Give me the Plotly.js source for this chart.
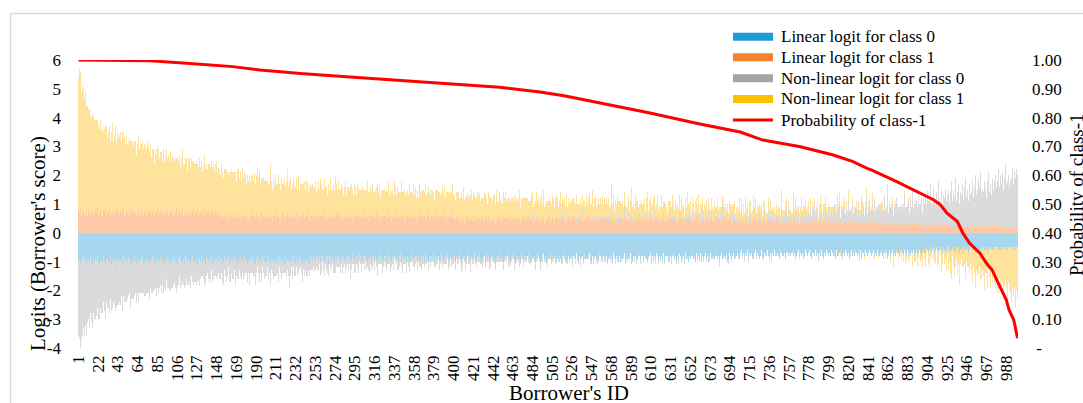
<!DOCTYPE html>
<html>
<head>
<meta charset="utf-8">
<script src="https://cdn.plot.ly/plotly-3.0.1.min.js"></script>
<style>
  html, body { margin: 0; padding: 0; background: #ffffff; }
  #chart { width: 1083px; height: 403px; }
</style>
</head>
<body>
<div id="chart"></div>
<script>
// Borrowers 1..1000, ordered by decreasing probability of class 1.
// One value per borrower in each logit series.

const linearClass0 = [
-1,-.9,-1.1,-1,-.9,-.8,-1,-.9,-1,-1.1,-.9,-.9,-1,-.8,-1,-1.1,-.9,-1,-.9,-1,-.8,-1,-1.1,-.9,-1,
-.9,-1,-.8,-1,-1.1,-.9,-.9,-1,-1,-.8,-1.1,-.9,-1,-.9,-1.2,-.9,-.8,-1,-.9,-1,-1,-.9,-1.1,-.8,-.9,
-1,-.9,-1,-.8,-.9,-1.1,-1,-.9,-.9,-1,-.8,-1,-1.1,-.9,-1,-.9,-1,-.8,-.9,-1.1,-1,-.9,-1,-.9,-1,
-.9,-1.1,-.9,-1,-.8,-1,-.9,-1,-1.1,-.9,-.9,-1,-.8,-1,-.9,-1.1,-.9,-1,-1,-.8,-.9,-1,-.9,-1.1,-.9,
-1,-.8,-.9,-1,-1,-1.1,-.9,-.8,-1,-.9,-1,-1,-.9,-1.1,-.8,-.9,-1,-.9,-1,-1.1,-.9,-.8,-1,-1,-.9,
-.9,-1,-1.1,-.9,-.9,-1,-.8,-1,-.9,-1,-1.1,-.8,-.9,-1,-.9,-1,-1,-.8,-1.1,-.9,-1,-.9,-.9,-1,-.8,
-1,-.9,-.9,-1.1,-1,-.8,-.9,-1,-1,-.9,-.8,-1,-1.1,-.9,-.9,-1,-.8,-1,-.9,-1.1,-1,-.9,-.8,-1,-.9,
-.9,-1,-.8,-.9,-1,-1.1,-.9,-1,-.9,-.8,-1,-.9,-1,-1.1,-.9,-.8,-1,-.9,-1,-.9,-1.1,-.8,-.9,-1,-1,
-1,-.8,-1,-.9,-1.1,-.9,-.9,-1,-.8,-1,-.9,-1.1,-.9,-1,-.8,-.9,-1,-1,-.9,-1.1,-.8,-1,-.9,-.9,-1,
-.9,-1,-.9,-1,-.8,-1,-1.1,-.9,-.9,-1,-.8,-.9,-1,-1.1,-.9,-1,-.8,-.9,-1,-.9,-1,-1.1,-.8,-.9,-1,
-.8,-.9,-1,-.8,-.7,-.9,-.8,-1,-.9,-.8,-.7,-.9,-1,-.8,-.9,-.8,-1.1,-.8,-.7,-.9,-.8,-.9,-1,-.8,-.9,
-.9,-.8,-.7,-.9,-1,-.8,-.9,-.8,-.9,-1,-.7,-.8,-.9,-.8,-1,-.9,-.8,-.7,-.9,-.9,-1,-.8,-.8,-.9,-.7,
-.8,-1,-.9,-.8,-.8,-.7,-.9,-1,-.8,-.9,-.9,-.8,-1.1,-.8,-.7,-.9,-.8,-.9,-1,-.8,-.7,-.9,-.8,-1,-.9,
-.9,-.8,-.8,-1,-.9,-.7,-.8,-.9,-1,-.8,-.9,-.7,-.8,-.9,-.9,-1,-.8,-.8,-.7,-1,-.9,-.8,-.9,-.8,-1,
-.8,-.9,-1,-.8,-.7,-.9,-.9,-.8,-1,-.8,-.8,-.9,-.7,-1,-.9,-.8,-.9,-.8,-1,-.7,-.8,-.9,-1,-.8,-.9,
-.9,-.8,-.9,-.7,-1,-.8,-.9,-.8,-.8,-1,-.9,-.7,-.8,-.9,-1,-.8,-.9,-.8,-.7,-.9,-1,-.8,-.9,-.9,-.8,
-.8,-1,-.8,-.9,-.8,-.7,-.9,-1,-.8,-.9,-.8,-.8,-1,-.9,-.7,-.8,-.9,-1,-.8,-.9,-.8,-.7,-1,-.9,-.8,
-.9,-.8,-.7,-.9,-1,-.9,-.8,-.8,-1,-.7,-.9,-.8,-.9,-1,-.8,-.8,-.7,-.9,-.9,-1,-.8,-.9,-.8,-.7,-.9,
-.8,-.9,-1,-.8,-.9,-.8,-.7,-.9,-.8,-1,-.9,-.8,-.8,-.7,-.9,-1,-.8,-.9,-.8,-.9,-1,-.7,-.8,-.9,-.8,
-1,-.8,-.9,-.8,-.7,-.9,-1,-.8,-.9,-.8,-.8,-1,-.9,-.7,-.8,-.9,-.8,-1,-.9,-.8,-.7,-.9,-.8,-1,-.9,
-.8,-.9,-.7,-1,-.8,-.9,-.8,-.8,-.9,-1,-.7,-.9,-.8,-.9,-1,-.8,-.7,-.9,-.8,-1,-.9,-.8,-.9,-.7,-.8,
-.9,-1,-.8,-.8,-.9,-.7,-.9,-1,-.8,-.9,-.8,-.8,-1,-.7,-.9,-.8,-1,-.9,-.8,-.7,-.9,-1,-.8,-.9,-.8,
-.8,-.9,-.9,-1,-.7,-.8,-.9,-.8,-1,-.8,-.9,-.7,-.8,-1,-.9,-.8,-.8,-.9,-1,-.7,-.8,-.9,-.8,-.9,-1,
-.9,-.8,-1,-.8,-.9,-.8,-.7,-1,-.9,-.8,-.9,-.8,-.7,-.9,-1,-.8,-.9,-.8,-.8,-1,-.9,-.7,-.8,-.9,-.8,
-.8,-.9,-.8,-.7,-.9,-1,-.8,-.8,-.9,-.7,-1,-.8,-.9,-.8,-.9,-.7,-.8,-1,-.8,-.9,-.8,-.9,-.7,-1,-.8,
-.9,-.7,-.8,-.9,-1,-.8,-.9,-.8,-.7,-.9,-.8,-1,-.8,-.9,-.7,-.8,-.9,-1,-.8,-.8,-.9,-.7,-.9,-.8,-1,
-.8,-.9,-.7,-.8,-.9,-.8,-1,-.7,-.8,-.9,-.8,-.9,-.7,-1,-.8,-.9,-.8,-.7,-.9,-.8,-1,-.8,-.7,-.9,-.8,
-.7,-.8,-.9,-.8,-.7,-.9,-.8,-1,-.8,-.7,-.9,-.8,-.8,-.9,-.7,-1,-.8,-.9,-.7,-.8,-.9,-.8,-.7,-.9,-.8,
-.8,-.7,-.8,-.9,-.7,-.6,-.8,-.7,-.9,-.8,-.7,-.8,-.6,-.9,-.7,-.8,-.7,-.8,-.9,-.7,-.6,-.8,-.7,-.8,-.9,
-.7,-.8,-.6,-.8,-.9,-.7,-.8,-.7,-.6,-.8,-.9,-.7,-.8,-.7,-.8,-.6,-.9,-.7,-.8,-.7,-.8,-.9,-.6,-.7,-.8,
-.8,-.7,-.9,-.7,-.6,-.8,-.7,-.8,-.9,-.7,-.6,-.8,-.7,-.9,-.8,-.7,-.6,-.8,-.7,-.8,-.7,-.9,-.8,-.6,-.7,
-.7,-.8,-.7,-.6,-.8,-.9,-.7,-.7,-.8,-.6,-.8,-.7,-.9,-.7,-.8,-.6,-.7,-.8,-.9,-.7,-.8,-.6,-.7,-.8,-.7,
-.8,-.6,-.7,-.8,-.7,-.9,-.6,-.8,-.7,-.8,-.7,-.6,-.8,-.9,-.7,-.8,-.6,-.7,-.8,-.7,-.9,-.7,-.6,-.8,-.7,
-.7,-.8,-.6,-.7,-.8,-.7,-.8,-.6,-.9,-.7,-.7,-.8,-.6,-.7,-.8,-.7,-.9,-.6,-.7,-.8,-.7,-.6,-.8,-.7,-.8,
-.6,-.7,-.8,-.7,-.6,-.8,-.7,-.7,-.8,-.6,-.7,-.9,-.7,-.6,-.8,-.7,-.6,-.8,-.7,-.8,-.6,-.7,-.7,-.8,-.6,
-.7,-.6,-.7,-.8,-.6,-.7,-.8,-.6,-.7,-.7,-.8,-.6,-.7,-.6,-.8,-.7,-.7,-.6,-.8,-.7,-.6,-.7,-.8,-.6,-.7,
-.6,-.7,-.5,-.6,-.7,-.6,-.5,-.7,-.6,-.6,-.5,-.7,-.6,-.5,-.6,-.7,-.6,-.5,-.6,-.7,-.5,-.6,-.6,-.7,-.5,
-.6,-.5,-.6,-.7,-.6,-.5,-.6,-.6,-.7,-.5,-.6,-.5,-.7,-.6,-.6,-.5,-.6,-.7,-.5,-.6,-.6,-.5,-.7,-.6,-.5,
-.5,-.6,-.6,-.5,-.7,-.6,-.5,-.6,-.5,-.6,-.7,-.5,-.6,-.5,-.6,-.6,-.5,-.7,-.6,-.5,-.6,-.5,-.6,-.6,-.5,
-.6,-.5,-.5,-.6,-.5,-.6,-.6,-.5,-.6,-.5,-.5,-.6,-.5,-.6,-.5,-.5,-.6,-.5,-.5,-.6,-.5,-.5,-.6,-.5,-.5
];

const linearClass1 = [
.8,.7,.9,.6,.7,.8,.6,.7,.9,.7,.6,.8,.7,.7,.5,.8,.7,.6,.8,.7,.9,.6,.7,.8,.6,
.7,.6,.8,.7,.9,.6,.7,.7,.8,.5,.7,.8,.6,.7,.9,.7,.6,.8,.7,.6,.8,.7,.7,.9,.6,
.6,.8,.7,.7,.6,.9,.7,.8,.6,.7,.8,.7,.5,.7,.8,.6,.7,.9,.7,.6,.7,.8,.6,.7,.8,
.7,.7,.8,.6,.7,.8,.5,.7,.7,.9,.6,.7,.8,.7,.6,.7,.8,.7,.6,.9,.7,.6,.7,.8,.7,
.8,.6,.7,.7,.9,.6,.7,.8,.7,.6,.7,.8,.6,.7,.7,.8,.5,.7,.8,.6,.7,.7,.9,.6,.7,
.6,.7,.8,.6,.7,.7,.8,.6,.7,.9,.6,.7,.7,.8,.6,.7,.6,.8,.7,.7,.6,.8,.7,.6,.7,
.6,.5,.7,.6,.5,.6,.7,.5,.6,.6,.4,.7,.6,.5,.6,.7,.5,.6,.5,.7,.6,.5,.6,.4,.6,
.5,.6,.6,.7,.5,.6,.5,.4,.6,.7,.6,.5,.6,.5,.7,.6,.5,.6,.6,.4,.7,.5,.6,.6,.5,
.6,.5,.6,.5,.7,.6,.4,.6,.5,.6,.7,.5,.6,.6,.5,.4,.6,.7,.5,.6,.5,.6,.7,.5,.6,
.5,.7,.5,.6,.6,.5,.6,.7,.4,.6,.5,.6,.5,.7,.6,.5,.6,.5,.6,.7,.5,.4,.6,.6,.5,
.6,.5,.6,.4,.6,.7,.5,.6,.5,.6,.6,.5,.7,.5,.6,.4,.6,.5,.7,.6,.5,.6,.5,.6,.7,
.5,.6,.7,.5,.6,.5,.6,.4,.6,.7,.5,.6,.5,.6,.6,.5,.7,.5,.4,.6,.6,.5,.7,.5,.6,
.6,.5,.5,.6,.7,.5,.6,.6,.5,.4,.6,.7,.5,.6,.5,.6,.5,.7,.6,.5,.6,.4,.6,.5,.6,
.5,.6,.6,.5,.5,.7,.5,.6,.4,.6,.5,.6,.7,.5,.6,.5,.6,.6,.5,.7,.5,.6,.5,.4,.6,
.6,.5,.7,.5,.6,.5,.6,.5,.6,.6,.4,.6,.5,.7,.5,.6,.5,.6,.6,.5,.4,.6,.7,.5,.5,
.5,.6,.5,.6,.4,.6,.7,.5,.5,.6,.6,.5,.6,.5,.7,.5,.6,.4,.6,.5,.6,.6,.5,.7,.5,
.5,.4,.5,.6,.4,.5,.4,.5,.6,.4,.5,.3,.5,.4,.6,.5,.4,.5,.5,.4,.6,.4,.5,.4,.5,
.4,.5,.5,.4,.6,.4,.5,.3,.5,.5,.4,.6,.4,.5,.4,.5,.6,.4,.5,.3,.5,.4,.5,.6,.4,
.5,.4,.6,.5,.4,.5,.5,.4,.3,.5,.6,.4,.5,.4,.5,.6,.4,.4,.5,.5,.3,.5,.4,.6,.5,
.4,.5,.4,.5,.6,.4,.5,.4,.5,.3,.5,.4,.6,.5,.4,.5,.5,.4,.6,.4,.5,.3,.5,.4,.5,
.5,.6,.4,.4,.5,.5,.3,.5,.4,.6,.5,.4,.5,.4,.5,.6,.4,.5,.3,.5,.4,.5,.6,.4,.5,
.4,.5,.5,.6,.4,.3,.5,.4,.5,.5,.4,.6,.4,.5,.3,.5,.4,.5,.6,.4,.5,.4,.5,.4,.6,
.5,.4,.6,.4,.5,.4,.5,.5,.3,.4,.6,.5,.4,.5,.4,.5,.4,.6,.4,.5,.3,.5,.4,.5,.4,
.4,.5,.4,.5,.3,.5,.6,.4,.5,.4,.5,.4,.5,.6,.4,.3,.5,.4,.5,.4,.6,.4,.5,.4,.5,
.5,.4,.5,.4,.6,.4,.4,.5,.3,.5,.4,.5,.4,.6,.5,.4,.4,.5,.3,.5,.5,.4,.6,.4,.4,
.4,.5,.3,.5,.4,.5,.5,.4,.6,.4,.4,.5,.3,.4,.5,.4,.6,.4,.5,.4,.3,.5,.4,.5,.4,
.5,.4,.4,.5,.3,.4,.5,.6,.4,.4,.5,.3,.5,.4,.4,.5,.4,.3,.5,.4,.5,.4,.4,.6,.4,
.4,.4,.5,.3,.5,.4,.4,.5,.4,.3,.5,.4,.5,.4,.3,.4,.5,.4,.4,.5,.3,.4,.5,.4,.4,
.4,.3,.4,.5,.3,.4,.4,.3,.5,.4,.3,.4,.4,.3,.5,.4,.3,.4,.4,.5,.3,.4,.3,.4,.4,
.3,.4,.4,.3,.4,.5,.3,.4,.3,.4,.4,.3,.5,.4,.3,.4,.3,.4,.5,.3,.4,.4,.3,.4,.3,
.4,.3,.5,.4,.3,.4,.3,.4,.4,.3,.4,.5,.3,.4,.3,.4,.4,.3,.4,.3,.5,.4,.3,.4,.4,
.3,.4,.3,.4,.4,.3,.5,.3,.4,.3,.4,.4,.3,.4,.5,.3,.4,.3,.4,.4,.3,.4,.3,.5,.3,
.4,.3,.4,.3,.3,.4,.4,.3,.4,.5,.3,.3,.4,.3,.4,.3,.4,.4,.3,.4,.3,.3,.4,.4,.3,
.3,.4,.3,.4,.3,.3,.4,.3,.4,.3,.4,.3,.3,.4,.3,.4,.3,.4,.3,.3,.4,.3,.4,.3,.3,
.3,.3,.4,.3,.2,.3,.3,.4,.3,.2,.3,.3,.3,.4,.2,.3,.3,.2,.3,.4,.3,.3,.2,.3,.3,
.3,.2,.3,.3,.3,.4,.2,.3,.3,.2,.3,.3,.4,.2,.3,.3,.2,.3,.3,.3,.2,.4,.3,.2,.3,
.2,.3,.3,.2,.3,.2,.3,.3,.4,.2,.3,.2,.3,.3,.2,.3,.2,.3,.3,.2,.3,.3,.2,.3,.2,
.3,.2,.2,.3,.3,.2,.3,.2,.3,.2,.3,.3,.2,.2,.3,.2,.3,.2,.3,.2,.2,.3,.2,.3,.2,
.2,.3,.2,.2,.3,.2,.2,.3,.2,.2,.3,.2,.2,.3,.2,.2,.2,.3,.2,.2,.3,.2,.2,.2,.3,
.2,.2,.3,.2,.2,.2,.3,.2,.2,.2,.2,.3,.2,.2,.2,.2,.3,.2,.2,.2,.2,.2,.3,.2,.2
];

const nonLinearClass0 = [
-2.6,-2.8,-3,-2.7,-2.7,-2.5,-2.6,-2.3,-2.4,-2.5,-2.2,-2.1,-2.3,-2,-2.1,-2.2,-1.9,-2,-2.1,-1.9,-1.8,-2,-1.9,-1.7,-1.8,
-1.7,-1.8,-1.6,-1.7,-1.9,-1.5,-1.7,-1.6,-1.8,-1.5,-1.6,-1.7,-1.4,-1.6,-1.5,-1.7,-1.4,-1.5,-1.6,-1.4,-1.5,-1.3,-1.6,-1.4,-1.5,
-1.4,-1.5,-1.3,-1.4,-1.2,-1.5,-1.3,-1.4,-1.2,-1.3,-1.4,-1.1,-1.3,-1.2,-1.4,-1.2,-1.1,-1.3,-1.2,-1,-1.2,-1.3,-1.1,-1.2,-1.1,
-1.1,-1.2,-1,-1.1,-1.3,-1,-1.1,-.9,-1.1,-1,-1.2,-.9,-1,-1.1,-.9,-1,-1.2,-.9,-1,-.8,-1,-.9,-1.1,-.9,-1,
-.9,-1,-.8,-.9,-1.1,-.8,-.9,-.7,-.9,-1,-.8,-.7,-.9,-.8,-1,-.7,-.8,-.9,-.7,-.8,-.6,-.9,-.8,-.7,-.8,
-.7,-.8,-.6,-.7,-.9,-.6,-.7,-.5,-.7,-.8,-.6,-.7,-.5,-.6,-.8,-.6,-.7,-.5,-.6,-.7,-.5,-.6,-.7,-.5,-.6,
-.6,-.7,-.5,-.6,-.8,-.5,-.6,-.7,-.5,-.6,-.4,-.7,-.6,-.5,-.7,-.6,-.5,-.8,-.6,-.5,-.6,-.4,-.7,-.6,-.5,
-.5,-.6,-.7,-.5,-.4,-.6,-.5,-.8,-.5,-.6,-.4,-.6,-.5,-.7,-.5,-.4,-.6,-.5,-.7,-.5,-.6,-.4,-.5,-.6,-.5,
-.5,-.4,-.6,-.5,-.7,-.4,-.5,-.6,-.3,-.5,-.6,-.4,-.5,-.7,-.4,-.5,-.6,-.4,-.5,-.3,-.6,-.5,-.4,-.6,-.9,
-.4,-.5,-.3,-.6,-.4,-.5,-.4,-.3,-.6,-.4,-.5,-.3,-.4,-.6,-.4,-.5,-.3,-.4,-.5,-.6,-.3,-.4,-.5,-.4,-.3,
-.4,-.5,-.3,-.4,-.6,-.4,-.3,-.5,-.4,-.6,-.3,-.4,-.5,-.3,-.4,-.6,-.4,-.3,-.5,-.4,-.3,-.5,-.4,-.6,-.3,
-.3,-.4,-.5,-.3,-.4,-.3,-.5,-.4,-.2,-.4,-.5,-.3,-.4,-.3,-.6,-.4,-.3,-.4,-.2,-.5,-.4,-.3,-.4,-.5,-.3,
-.3,-.4,-.2,-.3,-.5,-.3,-.4,-.2,-.3,-.4,-.5,-.3,-.2,-.4,-.3,-.4,-.2,-.3,-.5,-.3,-.4,-.2,-.3,-.4,-.3,
-.3,-.2,-.4,-.3,-.2,-.4,-.3,-.5,-.2,-.3,-.4,-.2,-.3,-.1,-.4,-.3,-.2,-.4,-.3,-.2,-.5,-.3,-.2,-.3,-.4,
-.2,-.3,-.4,-.2,-.3,-.1,-.3,-.4,-.2,-.3,-.2,-.4,-.3,-.2,-.3,-.5,-.2,-.3,-.2,-.4,-.3,-.1,-.3,-.2,-.3,
-.3,-.2,-.1,-.3,-.2,-.4,-.2,-.3,-.1,-.3,-.2,-.3,-.4,-.2,-.1,-.3,-.2,-.3,-.2,-.4,-.2,-.1,-.3,-.2,-.3,
-.2,-.3,-.1,-.2,-.3,-.2,-.1,-.4,-.2,-.3,-.1,-.2,-.3,-.2,-.1,-.3,-.2,-.4,-.1,-.2,-.3,-.2,-.1,-.3,-.2,
-.1,-.2,-.3,-.2,-.1,-.3,-.2,.1,-.2,-.3,-.1,-.2,-.4,-.2,-.1,-.2,-.3,-.1,-.2,-.3,-.2,-.1,-.2,-.3,-.1,
-.2,-.1,-.3,-.2,.1,-.2,-.1,-.3,-.2,-.1,-.3,-.2,-.1,-.2,-.4,-.1,-.2,.1,-.2,-.3,-.1,-.2,-.1,-.3,-.2,
-.1,-.2,-.1,.1,-.3,-.2,-.1,-.2,.2,-.1,-.2,-.3,-.1,-.2,.1,-.1,-.2,-.3,-.1,-.2,.1,-.1,-.2,-.1,-.3,
-.1,.1,-.2,-.1,-.2,.2,-.1,-.3,-.1,.1,-.2,-.1,-.2,.1,-.1,-.3,-.1,.2,-.2,-.1,-.2,.1,-.1,-.2,-.1,
-.1,-.2,.1,-.1,-.2,.2,-.1,-.1,.1,-.3,-.1,.2,-.1,-.2,.1,-.1,-.2,.1,-.1,.3,-.2,-.1,.1,-.2,-.1,
.1,-.1,-.2,.1,-.1,.2,-.1,-.2,.1,.2,-.1,-.3,.1,-.1,.2,-.1,-.2,.1,-.1,.3,-.1,-.2,.1,-.1,.2,
-.1,.2,.1,-.2,.1,-.1,.3,-.1,.1,-.2,.2,-.1,.1,-.2,.1,.2,-.1,-.2,.3,-.1,.1,-.1,.2,-.2,.1,
.1,-.1,.2,-.2,.1,.3,-.1,.1,-.2,.2,-.1,.1,-.1,.2,-.2,.1,.3,-.1,.1,-.1,.2,-.2,.1,-.1,.2,
.2,-.1,.1,-.1,.3,.1,-.2,.2,-.1,.1,.2,-.1,.1,-.2,.3,.1,-.1,.2,-.1,.1,-.2,.2,.1,-.1,.2,
.1,.2,-.1,.3,.1,-.1,.2,.1,-.2,.3,.1,-.1,.2,.1,.4,-.1,.1,.2,-.1,.1,.3,-.2,.1,.2,-.1,
.2,-.1,.1,.3,-.1,.2,.1,-.2,.2,.1,.4,-.1,.1,.2,-.1,.3,.1,-.2,.2,.1,-.1,.3,.1,.2,-.1,
.1,.3,-.1,.2,.1,.4,-.1,.2,.1,-.2,.3,.1,.2,-.1,.1,.3,.2,-.1,.2,.1,.5,-.1,.2,.1,.3,
.2,.1,.4,-.1,.2,.3,.1,-.1,.2,.4,.1,.2,-.2,.3,.1,.2,.5,-.1,.1,.3,.2,.1,-.1,.4,.2,
.1,.3,.2,.5,-.1,.2,.3,.1,.4,.2,-.1,.3,.2,.6,.1,.2,.3,-.1,.2,.4,.1,.3,.2,.5,.1,
.3,.2,.4,.1,.5,.2,.3,.1,.6,.2,.3,.4,-.1,.3,.2,.5,.3,.1,.4,.2,.6,.3,.2,.4,.3,
.3,.5,.2,.4,.7,.3,.2,.6,.4,.3,.8,.2,.4,.5,.3,.6,.2,.4,.3,.7,.4,.5,.2,.6,.3,
.4,.3,.6,.5,.2,.7,.4,.3,.8,.4,.5,.3,.6,.9,.3,.5,.4,.7,.3,.5,.6,.4,.8,.3,.5,
.5,.7,.4,.6,.9,.4,.5,.8,.3,.6,.5,1,.4,.6,.7,.5,.8,.4,.6,.5,.9,.4,.7,.5,.6,
.6,.8,.5,.7,1,.5,.7,.6,.9,.5,.8,.6,1.1,.6,.7,.9,.5,.8,.6,1,.7,.6,.9,.5,.8,
.8,1,.7,1.2,.8,.9,1.4,.7,1,.8,1.3,.9,.7,1.1,.8,1.5,.9,.8,1.2,.7,1,.9,1.3,.8,1.1,
1,1.3,.8,1.1,1.5,.9,1.2,1,1.6,.9,1.1,1.4,.8,1.2,1,1.5,1.1,.9,1.3,1.7,1,1.2,.9,1.4,1.1,
1.2,1.5,1,1.4,1.7,1.1,1.3,1.6,1,1.4,1.8,1.2,1.3,1.1,1.6,1.4,1,1.5,1.9,1.2,1.4,1.1,1.7,1.3,1.5,
1.5,1.8,1.3,1.6,2,1.4,1.7,1.5,1.9,1.3,1.7,2.1,1.5,1.6,1.8,1.4,2,1.6,1.7,2.1,1.5,1.9,1.6,2,1.8
];

const nonLinearClass1 = [
4.6,5,4.7,4.3,4.4,4.2,4,4.2,3.9,3.7,3.8,3.5,3.6,3.4,3.5,3.3,3.4,3.3,3.1,3.2,3,3.1,2.9,3.1,2.9,
2.9,3,2.7,2.9,2.8,3.1,2.6,2.8,2.9,2.7,2.8,3,2.6,2.7,2.8,2.5,2.9,2.7,2.6,2.8,2.7,2.5,2.8,2.6,2.7,
2.5,2.6,2.4,2.5,2.7,2.3,2.5,2.4,2.6,2.3,2.4,2.5,2.2,2.4,2.6,2.3,2.4,2.2,2.5,2.3,2.4,2.2,2.3,2.5,2.2,
2.2,2.1,2.3,2,2.2,2.1,1.9,2.2,2,2.1,2.3,1.9,2,2.1,1.9,2.2,2,1.8,2.1,2,1.9,2.1,1.8,2,1.9,
1.9,2,1.8,1.9,1.7,2,1.8,1.9,1.8,1.7,1.9,2.1,1.8,1.7,1.9,1.8,1.6,1.9,1.8,1.7,1.9,1.8,1.6,1.8,1.7,
1.7,1.8,1.6,1.7,1.9,1.6,1.7,1.5,1.7,1.8,1.6,1.7,1.5,1.6,1.8,1.6,1.5,1.7,1.6,1.7,1.5,1.6,1.8,1.5,1.6,
1.6,1.5,1.7,1.5,1.4,1.6,1.5,1.7,1.4,1.5,1.6,1.4,1.5,1.7,1.5,1.4,1.6,1.5,1.3,1.5,1.6,1.4,1.5,1.4,1.6,
1.4,1.3,1.5,1.3,1.2,1.4,1.3,1.6,1.2,1.3,1.4,1.3,1.5,1.2,1.3,1.7,1.2,1.3,1.5,1.3,1.2,1.4,1.3,1.2,1.4,
1.2,1.3,1.1,1.2,1.7,1.2,1.1,1.3,1.2,1,1.3,1.2,1.1,1.4,1.2,1.1,1.3,1,1.2,1.3,1.1,1.2,1.5,1.1,1.2,
1.1,1.2,1,1.1,1.3,1.1,1,1.2,1.1,1.4,1,1.1,1.2,1,1.1,1.3,1.1,1,1.2,1.1,.9,1.2,1.1,1,1.2,
1,1.1,1.2,1,.9,1.1,1,1.3,1,1.1,.9,1,1.2,1.1,1,.9,1.1,1,1.2,.9,1,1.1,1,1.4,1,
1,.9,1.1,1,.9,1.2,1,.9,1,1.1,.8,1,1.1,.9,1,1.2,.9,1,.9,1.1,1,.8,1,1.1,.9,
.9,1,1.1,.9,.8,1,.9,1.2,.9,1,.8,.9,1,1.1,.9,.8,1,.9,1.1,.9,1,.8,.9,1,.9,
1,.9,.8,1,.9,1.1,.8,.9,1,.9,.8,1.2,.9,.8,1,.9,1,.8,.9,1.1,.9,.8,1,.9,.8,
.9,.8,1,.9,.8,.9,1.1,.8,.9,1,.8,.9,.7,1,.9,.8,1,.9,.8,1.2,.9,.8,.9,1,.8,
.8,.9,1,.8,.7,.9,.8,1,.9,.8,.7,.9,1.1,.8,.9,.7,.8,1,.8,.9,.7,.8,.9,1,.8,
.8,.7,.9,.8,1,.7,.8,.9,.7,.8,1.1,.8,.7,.9,.8,.7,.9,.8,1,.7,.8,.9,.7,.8,.9,
.7,.8,.9,.7,.6,.8,.7,1,.8,.7,.6,.8,.9,.7,.8,.6,.7,.9,.8,.7,1,.7,.6,.8,.7,
.7,.6,.8,.7,.9,.6,.7,.8,.6,.7,.5,.8,.7,.9,.6,.7,.8,.6,.7,1,.6,.7,.8,.6,.7,
.6,.7,.8,.6,.5,.7,.6,.9,.7,.6,.5,.7,.8,.6,.7,.5,.6,.8,.7,.6,.9,.6,.5,.7,.6,
.6,.5,.7,.6,.8,.5,.6,.7,.4,.6,.7,.5,.6,.9,.5,.6,.7,.5,.6,.8,.5,.6,.4,.7,.6,
.5,.7,.6,.5,.6,.8,.5,.6,.4,.7,.6,.5,.7,.6,.5,.8,.6,.4,.6,.7,.5,.6,.9,.5,.6,
.6,.5,.4,.7,.5,.6,.5,.8,.5,.4,.6,.5,.7,.5,.6,.4,.5,1,.6,.5,.4,.6,.5,.8,.5,
.5,.4,.6,.5,.7,.4,.5,.6,.3,.5,.6,.4,.5,1,.4,.5,.6,.4,.5,.7,.4,.5,.3,.6,.5,
.4,.6,.5,.4,.5,.7,.4,.5,.3,.6,.5,.4,.8,.5,.4,.5,.6,.3,.5,.4,.6,.5,.4,.7,.4,
.5,.4,.3,.6,.4,.5,.4,.7,.4,.3,.5,.4,.6,.4,.5,.3,.4,.6,.5,.4,.3,.5,.4,.9,.4,
.4,.5,.3,.4,.6,.3,.4,.5,.4,.3,.7,.4,.3,.5,.4,.3,.5,.4,.6,.3,.4,.5,.3,.4,.5,
.3,.4,.5,.3,.4,.6,.3,.4,.3,.5,.4,.8,.3,.4,.5,.3,.4,.3,.5,.4,.6,.3,.4,.5,.3,
.4,.3,.4,.5,.3,.4,.2,.5,.4,.3,.6,.3,.4,.3,.5,.4,.2,.4,.7,.3,.4,.3,.5,.4,.3,
.3,.4,.2,.3,.5,.3,.4,.3,.2,.4,.3,.6,.3,.2,.4,.3,.5,.3,.4,.2,.3,.4,.3,.7,.3,
.3,.2,.4,.3,.3,.5,.2,.3,.4,.2,.3,.6,.3,.2,.4,.3,.2,.4,.3,.5,.2,.3,.4,.2,.3,
.2,.3,.4,.2,.3,.1,.3,.5,.2,.3,.2,.4,.2,.3,.6,.2,.1,.3,.2,.4,.3,.2,.3,.1,.3,
.2,.1,.3,.2,-.1,.3,.2,.4,.1,.2,.3,-.2,.2,.1,.5,.2,.1,.3,.2,.4,.1,-.1,.3,.2,.1,
.1,.2,-.1,.2,.3,.1,-.2,.2,.1,.4,.1,-.1,.2,.3,.1,.2,-.3,.1,.2,.1,.4,.1,-.1,.2,.1,
.1,-.2,.2,.1,-.1,.3,-.2,.1,.2,-.3,.1,.4,-.1,.1,-.2,.2,.1,-.4,.1,.2,-.1,.3,-.2,.1,-.1,
-.1,-.3,.1,-.2,.2,-.4,-.1,.1,-.3,-.2,.2,-.1,-.5,.1,-.2,-.3,.3,-.1,-.4,-.2,.1,-.3,-.1,-.6,.1,
-.3,-.5,-.2,.1,-.4,-.6,-.3,-.2,-.7,.2,-.4,-.3,-.5,-.1,-.6,-.4,.1,-.3,-.8,-.4,-.2,-.5,-.3,-.6,-.2,
-.5,-.8,-.4,-.7,-1,-.3,-.6,-.9,-.5,-.4,-.8,-.6,-1.1,-.5,-.3,-.7,-.9,-.5,-.6,-1,-.4,-.7,-.5,-.8,-.6,
-.8,-1.1,-.6,-.9,-1.2,-.7,-1,-.8,-1.3,-.6,-.9,-1.1,-.7,-1,-1.4,-.8,-.9,-1.2,-.7,-1,-1.3,-.8,-1.1,-.9,-1.2,
-1.1,-1.4,-.9,-1.3,-1.6,-1,-1.2,-1.5,-1.1,-1.7,-1.3,-1,-1.4,-1.8,-1.2,-1.5,-1.1,-1.6,-1.9,-1.3,-1.7,-1.4,-2,-1.5,-1.8
];

// Probability of class 1, read at selected borrower IDs
const probIds = [1, 40, 77, 116, 165, 194, 237, 290, 343, 396, 449, 492, 519, 556, 609, 662, 705, 729,
  769, 804, 825, 840, 845, 872, 893, 911, 918, 925, 936, 942, 949, 960, 967, 973, 978, 983, 988, 991, 996, 1000];
const probClass1 = [1.000, 0.999, 0.997, 0.989, 0.977, 0.965, 0.953, 0.941, 0.929, 0.917, 0.905, 0.889, 0.875, 0.851, 0.816, 0.778, 0.750, 0.722,
  0.699, 0.670, 0.647, 0.624, 0.618, 0.577, 0.543, 0.514, 0.497, 0.468, 0.439, 0.398, 0.364, 0.329, 0.294, 0.271, 0.236, 0.201, 0.167, 0.132, 0.097, 0.034];

const seriesNames = [
  'Linear logit for class 0',
  'Linear logit for class 1',
  'Non-linear logit for class 0',
  'Non-linear logit for class 1',
  'Probability of class-1'
];

const logitTickVals = [-4, -3, -2, -1, 0, 1, 2, 3, 4, 5, 6];
const logitTickText = ['-4', '-3', '-2', '-1', '0', '1', '2', '3', '4', '5', '6'];
const probTickVals = [0, 0.1, 0.2, 0.3, 0.4, 0.5, 0.6, 0.7, 0.8, 0.9, 1.0];
const probTickText = ['\u00a0-', '0.10', '0.20', '0.30', '0.40', '0.50', '0.60', '0.70', '0.80', '0.90', '1.00'];

// ---- styling ----
const FONT = 'Liberation Serif, "Times New Roman", Times, serif';
const W = 1083, H = 403;
const M = { l: 78, r: 65, t: 60, b: 55 };
const PW = W - M.l - M.r;
const PH = H - M.t - M.b;
// page pixel -> paper fraction
const px = x => (x - M.l) / PW;
const py = y => (H - M.b - y) / PH;

// thin bars render as pale tints; the key uses the full hues
const barFill = ['#a7d7ef', '#fdc9a6', '#dbdbdb', '#ffe29b'];
const keyFill = ['#1f9ad7', '#f6812f', '#a5a5a5', '#ffc000'];
const lineColor = '#ff0000';

const barSeries = [linearClass0, linearClass1, nonLinearClass0, nonLinearClass1];
const traces = barSeries.map((vals, k) => ({
  type: 'bar',
  name: seriesNames[k],
  x0: 1, dx: 1,
  y: vals,
  marker: { color: barFill[k], line: { width: 0 } },
  showlegend: false,
  hoverinfo: 'skip'
}));
traces.push({
  type: 'scatter',
  mode: 'lines',
  name: seriesNames[4],
  x: probIds,
  y: probClass1,
  yaxis: 'y2',
  line: { color: lineColor, width: 3 },
  cliponaxis: false,
  showlegend: false,
  hoverinfo: 'skip'
});

// ---- key (drawn as shapes + text) ----
const keyRows = [36.7, 57.3, 78.3, 99, 120];
const keyX0 = 733, keyX1 = 773, keyTextX = 779;
const shapes = [];
const annotations = [];
keyRows.forEach((cy, k) => {
  if (k < 4) {
    shapes.push({ type: 'rect', xref: 'paper', yref: 'paper',
      x0: px(keyX0), x1: px(keyX1), y0: py(cy + 4), y1: py(cy - 4),
      fillcolor: keyFill[k], line: { width: 0 } });
  } else {
    shapes.push({ type: 'line', xref: 'paper', yref: 'paper',
      x0: px(keyX0), x1: px(keyX1), y0: py(cy), y1: py(cy),
      line: { color: lineColor, width: 3 } });
  }
  annotations.push({ xref: 'paper', yref: 'paper', x: px(keyTextX), y: py(cy),
    xanchor: 'left', yanchor: 'middle', showarrow: false, text: seriesNames[k],
    font: { family: FONT, size: 17, color: '#000000' } });
});

// chart frame (top and left edges fall inside the page)
shapes.push({ type: 'line', xref: 'paper', yref: 'paper', x0: px(10.5), x1: px(1090), y0: py(13.5), y1: py(13.5),
  line: { color: '#d9d9d9', width: 1.5 } });
shapes.push({ type: 'line', xref: 'paper', yref: 'paper', x0: px(10.5), x1: px(10.5), y0: py(13.5), y1: py(410),
  line: { color: '#d9d9d9', width: 1.5 } });

// axis titles
annotations.push({ xref: 'paper', yref: 'paper', x: px(38), y: py(244), xanchor: 'center', yanchor: 'middle',
  textangle: -90, showarrow: false, text: "Logits (Borrower's score)",
  font: { family: FONT, size: 21, color: '#000000' } });
annotations.push({ xref: 'paper', yref: 'paper', x: px(1076), y: py(195), xanchor: 'center', yanchor: 'middle',
  textangle: -90, showarrow: false, text: 'Probability of class-1',
  font: { family: FONT, size: 19, color: '#000000' } });
annotations.push({ xref: 'paper', yref: 'paper', x: px(569), y: py(393), xanchor: 'center', yanchor: 'middle',
  showarrow: false, text: "Borrower's ID",
  font: { family: FONT, size: 21, color: '#000000' } });

const tickFont = { family: FONT, size: 17, color: '#000000' };

const layout = {
  width: W, height: H,
  margin: M,
  paper_bgcolor: '#ffffff',
  plot_bgcolor: 'rgba(0,0,0,0)',
  barmode: 'relative',
  bargap: 0,
  showlegend: false,
  xaxis: {
    range: [0.5, 1000.5],
    tickmode: 'linear', tick0: 1, dtick: 21,
    tickangle: -90,
    showgrid: false, zeroline: false, showline: false, ticks: '',
    ticklabelstandoff: 3,
    tickfont: tickFont,
    fixedrange: true
  },
  yaxis: {
    range: [-4, 6],
    tickmode: 'array', tickvals: logitTickVals, ticktext: logitTickText,
    showgrid: false, showline: false, ticks: '',
    zeroline: true, zerolinecolor: '#d3d8dc', zerolinewidth: 1.6,
    layer: 'above traces',
    ticklabelstandoff: 16,
    tickfont: tickFont,
    fixedrange: true
  },
  yaxis2: {
    overlaying: 'y', side: 'right',
    range: [0, 1],
    tickmode: 'array', tickvals: probTickVals, ticktext: probTickText,
    showgrid: false, showline: false, zeroline: false, ticks: '',
    ticklabelstandoff: 13,
    tickfont: tickFont,
    fixedrange: true
  },
  shapes: shapes,
  annotations: annotations
};

Plotly.newPlot('chart', traces, layout, { staticPlot: true, displayModeBar: false });
</script>
</body>
</html>
